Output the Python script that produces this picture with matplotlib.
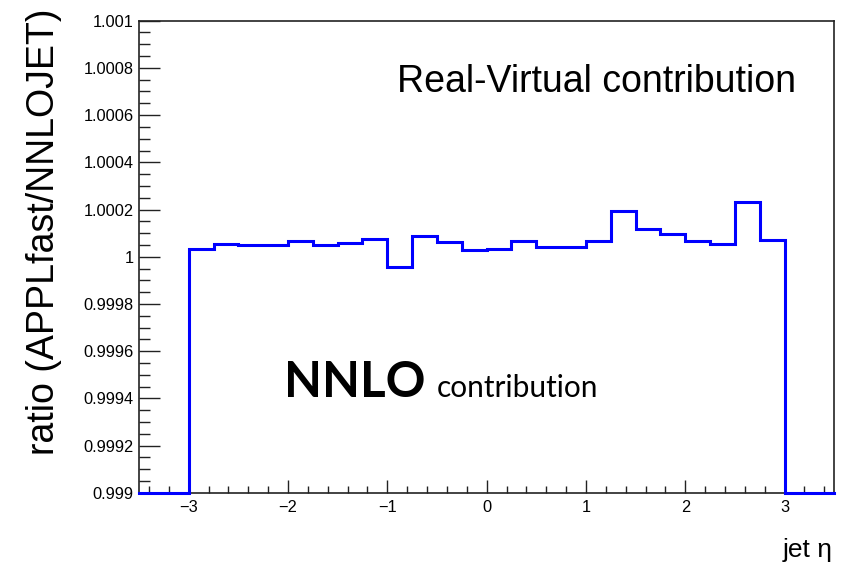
import numpy as np
import matplotlib
matplotlib.use("Agg")
import matplotlib.pyplot as plt
from matplotlib.ticker import MultipleLocator, FuncFormatter

# Histogram binning in jet eta (0.25 wide bins from -3.5 to 3.5)
bin_edges = np.arange(-3.5, 3.5 + 1e-9, 0.25)

# Ratio APPLfast / NNLOJET per bin (bins outside |eta| < 3 are empty)
ratio = [
    0.0, 0.0,
    1.000034, 1.000055, 1.000048, 1.000048, 1.000065, 1.000048,
    1.000060, 1.000077, 0.999958, 1.000086, 1.000062, 1.000027,
    1.000034, 1.000065, 1.000041, 1.000041, 1.000065, 1.000195,
    1.000118, 1.000096, 1.000068, 1.000055, 1.000231, 1.000072,
    0.0, 0.0,
]

x_range = (-3.5, 3.5)
y_range = (0.999, 1.001)
x_major_ticks = [-3, -2, -1, 0, 1, 2, 3]

plt.rcParams["font.family"] = ["Liberation Sans", "DejaVu Sans"]

fig = plt.figure(figsize=(8.41, 5.67), dpi=100)
ax = fig.add_axes([0.1653, 0.131, 0.8267, 0.8325])

# empty bins sit on the lower edge of the frame, as a ROOT histogram does
vals = np.maximum(np.array(ratio), y_range[0])
xs = np.repeat(bin_edges, 2)[1:-1]
ys = np.repeat(vals, 2)
ax.plot(xs, ys, color="#0000ff", lw=2.2, solid_joinstyle="miter", clip_on=False, zorder=3)

ax.set_xlim(*x_range)
ax.set_ylim(*y_range)

ax.xaxis.set_major_locator(MultipleLocator(1))
ax.xaxis.set_minor_locator(MultipleLocator(0.2))
ax.yaxis.set_major_locator(MultipleLocator(0.0002))
ax.yaxis.set_minor_locator(MultipleLocator(0.00005))

def yfmt(v, pos):
    s = f"{v:.4f}".rstrip("0").rstrip(".")
    return s

ax.yaxis.set_major_formatter(FuncFormatter(yfmt))
ax.set_xticks(x_major_ticks)
ax.set_xticklabels([f"{t}".replace("-", "\u2212") for t in x_major_ticks])

ax.tick_params(axis="both", which="both", direction="in", top=False, right=False,
               labelsize=11.8, color="#222222", width=1.0)
ax.tick_params(axis="x", which="major", length=9.5, pad=5)
ax.tick_params(axis="x", which="minor", length=5)
ax.tick_params(axis="y", which="major", length=15, pad=4)
ax.tick_params(axis="y", which="minor", length=8)

for side, sp in ax.spines.items():
    sp.set_linewidth(1.2)
    sp.set_color("#222222")

fig.text(44 / 841, 1 - 232 / 567, "ratio (APPLfast/NNLOJET)", rotation=90,
         ha="center", va="center", fontsize=27)
fig.text(833 / 841, 1 - 557 / 567, "jet \u03b7", ha="right", va="baseline", fontsize=19)

fig.text(397 / 841, 1 - 91.7 / 567, "Real-Virtual contribution", ha="left",
         va="baseline", fontsize=27)

fig.text(284 / 841, 1 - 397 / 567, "NNLO", ha="left", va="baseline",
         fontsize=35.5, fontweight="bold", family=["Lato", "DejaVu Sans"])
fig.text(437 / 841, 1 - 397 / 567, "contribution", ha="left", va="baseline",
         fontsize=21.5, family=["Lato", "DejaVu Sans"])

fig.savefig("out.png", dpi=100)
